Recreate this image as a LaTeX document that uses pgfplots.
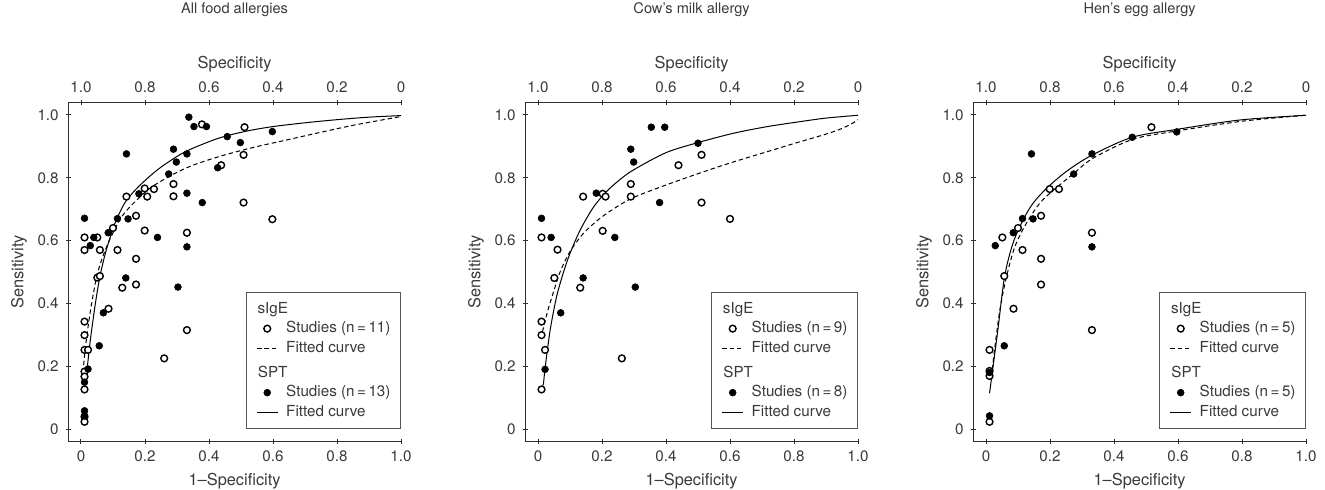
\documentclass[border=0pt]{standalone}
\usepackage{fontspec}
\setmainfont{TeX Gyre Heros}
\usepackage{pgfplots}
\pgfplotsset{compat=1.18}

\definecolor{txt}{HTML}{3A3A3A}
\definecolor{axl}{HTML}{2E2E2E}
\definecolor{legline}{HTML}{555555}

\pgfplotsset{
  roc/.style={
    scale only axis, width=166.4pt, height=169.6pt,
    xmin=-0.04, xmax=1.0, ymin=-0.04, ymax=1.04,
    tick align=outside, major tick length=2.5pt,
    tick style={axl, line width=0.5pt},
    axis line style={axl, line width=0.5pt, -},
    /pgf/number format/assume math mode=true,
    tick label style={font=\fontsize{7.6}{9}\selectfont, text=txt},
    clip=false,
  },
  rocbot/.style={roc,
    axis x line=bottom, axis y line=left,
    x axis line style={-}, y axis line style={-},
    xtick={0,0.2,0.4,0.6,0.8,1}, xticklabels={0,0.2,0.4,0.6,0.8,1.0},
    ytick={0,0.2,0.4,0.6,0.8,1}, yticklabels={0,0.2,0.4,0.6,0.8,1.0},
    xlabel={1\textendash Specificity},
    xlabel style={at={(axis description cs:0.5,-0.128)}, anchor=base, font=\fontsize{8.2}{10}\selectfont, text=txt},
    ylabel={Sensitivity},
    ylabel style={at={(axis description cs:-0.1348,0.5)}, anchor=base, font=\fontsize{8.2}{10}\selectfont, text=txt},
    legend style={at={(axis cs:1,0)}, anchor=south east, draw=legline, line width=0.5pt, fill=white,
      inner xsep=5pt, inner ysep=4.6pt, row sep=2.55pt, column sep=4pt,
      font=\fontsize{7.6}{9}\selectfont, text=txt,
      nodes={inner sep=0pt, text height=5.6pt, text depth=1.6pt}},
    legend cell align=left,
    legend image code/.code={\draw[mark repeat=2,mark phase=2,##1] plot coordinates {(0pt,0pt) (5.25pt,0pt) (10.5pt,0pt)};},
  },
  roctop/.style={roc,
    axis x line=top, axis y line=none,
    x axis line style={-},
    xtick={0,0.2,0.4,0.6,0.8,1}, xticklabels={1.0,0.8,0.6,0.4,0.2,0},
    xlabel={Specificity},
    xlabel style={at={(axis description cs:0.5,1.101)}, anchor=base, font=\fontsize{8.2}{10}\selectfont, text=txt},
    title style={at={(axis description cs:0.5,1.2268)}, anchor=base, font=\fontsize{7.3}{9}\selectfont, text=txt},
  },
  openpt/.style={only marks, mark=*, mark size=1.7pt, mark options={fill=white, draw=black, line width=0.7pt}},
  fillpt/.style={only marks, mark=*, mark size=1.7pt, mark options={fill=black, draw=black, line width=0.3pt}},
  fitd/.style={black, line width=0.5pt, dash pattern=on 2.2pt off 1.5pt, no marks, smooth},
  fits/.style={black, line width=0.5pt, no marks, smooth},
}

\newcommand{\rocleg}[2]{%
  \addlegendimage{empty legend}\addlegendentry{\hspace*{-14.5pt}sIgE}
  \addlegendimage{openpt}\addlegendentry{Studies (n\,=\,#1)}
  \addlegendimage{fitd}\addlegendentry{Fitted curve}
  \addlegendimage{empty legend}\addlegendentry[text height=8.35pt]{\hspace*{-14.5pt}SPT}
  \addlegendimage{fillpt}\addlegendentry{Studies (n\,=\,#2)}
  \addlegendimage{fits}\addlegendentry{Fitted curve}
}

\begin{document}
\begin{tikzpicture}
\useasboundingbox (0,0) rectangle (662.5pt,245pt);

% ---- All food allergies
\begin{axis}[rocbot, at={(34.1pt,24.2pt)}, anchor=south west]
\rocleg{11}{13}
\addplot[fitd, forget plot] coordinates {
  (0.006,0.18)(0.015,0.27)(0.03,0.38)(0.049,0.485)(0.065,0.54)(0.08,0.58)(0.1,0.625)
  (0.13,0.68)(0.17,0.725)(0.22,0.77)(0.29,0.812)(0.35,0.840)(0.44,0.870)(0.54,0.897)
  (0.65,0.922)(0.75,0.945)(0.85,0.967)(0.93,0.982)(1.0,0.995)};
\addplot[fits, forget plot] coordinates {
  (0.019,0.19)(0.03,0.29)(0.045,0.40)(0.059,0.485)(0.075,0.555)(0.091,0.61)(0.11,0.665)
  (0.14,0.725)(0.18,0.772)(0.23,0.818)(0.27,0.848)(0.33,0.885)(0.43,0.926)(0.52,0.949)
  (0.6,0.963)(0.7,0.975)(0.8,0.985)(0.9,0.993)(1.0,0.998)};
\addplot[openpt, forget plot] coordinates {
  (0.378,0.970)(0.511,0.961)(0.508,0.873)(0.438,0.840)(0.289,0.780)(0.289,0.741)
  (0.199,0.766)(0.228,0.764)(0.207,0.740)(0.142,0.740)(0.508,0.721)(0.172,0.679)
  (0.100,0.640)(0.199,0.632)(0.011,0.610)(0.051,0.610)(0.331,0.625)(0.011,0.570)
  (0.059,0.570)(0.114,0.570)(0.172,0.542)(0.051,0.482)(0.059,0.487)(0.172,0.460)
  (0.129,0.450)(0.086,0.383)(0.011,0.342)(0.011,0.299)(0.011,0.252)(0.022,0.252)
  (0.331,0.315)(0.260,0.225)(0.011,0.183)(0.011,0.167)(0.011,0.126)(0.011,0.039)
  (0.011,0.023)(0.598,0.668)};
\addplot[fillpt, forget plot] coordinates {
  (0.337,0.993)(0.353,0.963)(0.392,0.963)(0.142,0.876)(0.289,0.891)(0.331,0.876)
  (0.298,0.850)(0.457,0.931)(0.498,0.912)(0.427,0.832)(0.274,0.812)(0.181,0.749)
  (0.331,0.751)(0.379,0.721)(0.011,0.671)(0.114,0.670)(0.147,0.669)(0.085,0.625)
  (0.040,0.610)(0.239,0.610)(0.029,0.584)(0.331,0.580)(0.140,0.481)(0.303,0.452)
  (0.070,0.370)(0.057,0.265)(0.022,0.191)(0.011,0.149)(0.011,0.058)(0.011,0.042)
  (0.598,0.947)};
\end{axis}
\begin{axis}[roctop, at={(34.1pt,24.2pt)}, anchor=south west, title={All food allergies}]
\end{axis}

% ---- Cow's milk allergy
\begin{axis}[rocbot, at={(262.6pt,24.2pt)}, anchor=south west]
\rocleg{9}{8}
\addplot[fitd, forget plot] coordinates {
  (0.014,0.31)(0.03,0.375)(0.048,0.435)(0.069,0.50)(0.1,0.565)(0.142,0.623)(0.194,0.671)
  (0.247,0.708)(0.3,0.738)(0.4,0.777)(0.5,0.813)(0.6,0.847)(0.7,0.878)(0.8,0.909)
  (0.9,0.939)(0.95,0.957)(0.98,0.972)(1.0,0.985)};
\addplot[fits, forget plot] coordinates {
  (0.011,0.125)(0.017,0.145)(0.022,0.193)(0.038,0.315)(0.058,0.421)(0.079,0.497)
  (0.1,0.559)(0.132,0.634)(0.173,0.706)(0.215,0.757)(0.257,0.795)(0.3,0.826)(0.4,0.880)
  (0.5,0.912)(0.612,0.942)(0.717,0.963)(0.821,0.979)(0.9,0.99)(1.0,0.999)};
\addplot[openpt, forget plot] coordinates {
  (0.511,0.873)(0.439,0.840)(0.290,0.780)(0.290,0.740)(0.202,0.749)(0.211,0.740)
  (0.141,0.740)(0.511,0.721)(0.202,0.631)(0.011,0.610)(0.061,0.571)(0.051,0.481)
  (0.132,0.450)(0.011,0.342)(0.011,0.299)(0.022,0.252)(0.262,0.225)(0.011,0.126)
  (0.600,0.669)};
\addplot[fillpt, forget plot] coordinates {
  (0.354,0.961)(0.396,0.961)(0.290,0.891)(0.299,0.850)(0.500,0.910)(0.182,0.751)
  (0.380,0.721)(0.011,0.671)(0.041,0.610)(0.240,0.610)(0.141,0.481)(0.304,0.452)
  (0.071,0.370)(0.022,0.190)};
\end{axis}
\begin{axis}[roctop, at={(262.6pt,24.2pt)}, anchor=south west, title={Cow’s milk allergy}]
\end{axis}

% ---- Hen's egg allergy
\begin{axis}[rocbot, at={(486.6pt,24.2pt)}, anchor=south west]
\rocleg{5}{5}
\addplot[fitd, forget plot] coordinates {
  (0.017,0.167)(0.03,0.28)(0.045,0.39)(0.064,0.485)(0.09,0.58)(0.126,0.655)(0.168,0.719)
  (0.209,0.759)(0.272,0.812)(0.334,0.862)(0.457,0.922)(0.584,0.947)(0.8,0.98)(1.0,0.999)};
\addplot[fits, forget plot] coordinates {
  (0.011,0.114)(0.022,0.199)(0.037,0.315)(0.058,0.485)(0.084,0.591)(0.116,0.666)
  (0.147,0.719)(0.189,0.766)(0.251,0.82)(0.331,0.872)(0.457,0.929)(0.596,0.954)
  (0.794,0.984)(1.0,0.999)};
\addplot[openpt, forget plot] coordinates {
  (0.517,0.961)(0.199,0.764)(0.228,0.764)(0.172,0.679)(0.100,0.640)(0.051,0.610)
  (0.331,0.625)(0.114,0.570)(0.172,0.542)(0.057,0.487)(0.172,0.460)(0.086,0.383)
  (0.011,0.252)(0.331,0.315)(0.011,0.185)(0.011,0.169)(0.011,0.023)};
\addplot[fillpt, forget plot] coordinates {
  (0.457,0.929)(0.331,0.876)(0.142,0.876)(0.274,0.812)(0.114,0.670)(0.147,0.669)
  (0.085,0.625)(0.029,0.584)(0.331,0.580)(0.057,0.265)(0.011,0.180)(0.011,0.042)
  (0.596,0.946)};
\end{axis}
\begin{axis}[roctop, at={(486.6pt,24.2pt)}, anchor=south west, title={Hen’s egg allergy}]
\end{axis}
\end{tikzpicture}
\end{document}
